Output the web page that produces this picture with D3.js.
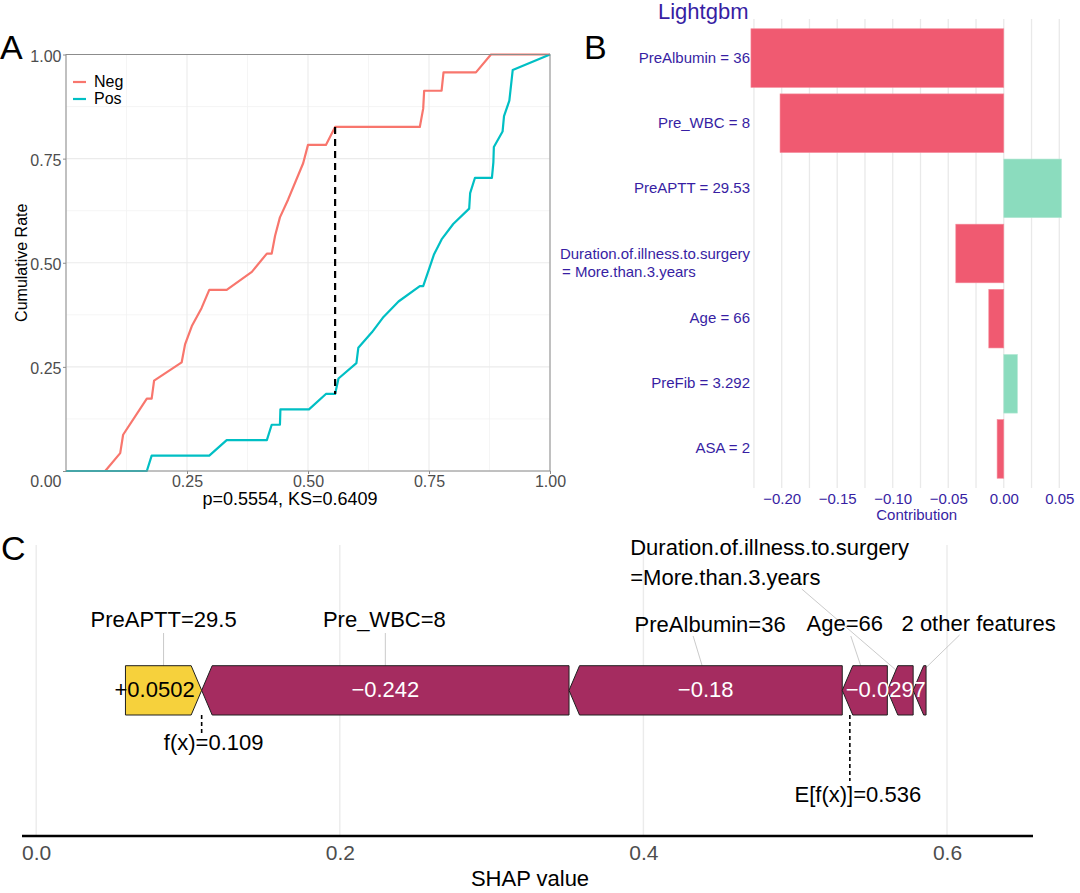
<!DOCTYPE html>
<html lang="en">
<head>
<meta charset="UTF-8">
<title>KS curves, Lightgbm break-down and SHAP force plot</title>
<script src="https://cdn.jsdelivr.net/npm/d3@7"></script>
<style>
  body { margin: 0; background: #fff; }
  svg { font-family: "Liberation Sans", Arial, Helvetica, sans-serif; }
</style>
</head>
<body>
<svg id="chart" width="1080" height="893"></svg>
<script>
// ---------- data ----------
// panel A: cumulative rate curves (x = predicted score, y = cumulative rate)
const negX = [0, 0.081, 0.112, 0.118, 0.167, 0.177, 0.182, 0.239, 0.246, 0.26, 0.28, 0.296, 0.332, 0.384, 0.415, 0.425, 0.432, 0.442, 0.459, 0.49, 0.50, 0.537, 0.556, 0.731, 0.738, 0.74, 0.776, 0.78, 0.847, 0.878, 1.0];
const negY = [0, 0, 0.043, 0.087, 0.174, 0.174, 0.217, 0.261, 0.304, 0.348, 0.391, 0.435, 0.435, 0.478, 0.522, 0.522, 0.565, 0.609, 0.652, 0.739, 0.783, 0.783, 0.826, 0.826, 0.870, 0.913, 0.913, 0.957, 0.957, 1.0, 1.0];
const posX = [0, 0.167, 0.177, 0.296, 0.332, 0.415, 0.425, 0.442, 0.443, 0.502, 0.537, 0.556, 0.563, 0.60, 0.604, 0.632, 0.656, 0.687, 0.731, 0.738, 0.749, 0.76, 0.776, 0.80, 0.833, 0.835, 0.845, 0.88, 0.883, 0.884, 0.902, 0.905, 0.916, 0.923, 1.0];
const posY = [0, 0, 0.037, 0.037, 0.074, 0.074, 0.111, 0.111, 0.148, 0.148, 0.185, 0.185, 0.222, 0.259, 0.296, 0.333, 0.370, 0.407, 0.444, 0.444, 0.481, 0.519, 0.556, 0.593, 0.630, 0.667, 0.704, 0.704, 0.741, 0.778, 0.815, 0.852, 0.889, 0.963, 1.0];
const ksAt = 0.556;          // location of the max distance
const ksText = 'p=0.5554, KS=0.6409';
const groups = ['Neg', 'Pos'];
const rateTicks = [0, 0.25, 0.5, 0.75, 1];

// panel B: Lightgbm break-down
const bdLabels = ['PreAlbumin = 36', 'Pre_WBC = 8', 'PreAPTT = 29.53', 'Duration.of.illness.to.surgery\n = More.than.3.years', 'Age = 66', 'PreFib = 3.292', 'ASA = 2'];
const bdValues = [-0.2277, -0.2015, 0.052, -0.0432, -0.0135, 0.0123, -0.006];
const bdTicks = [-0.2, -0.15, -0.1, -0.05, 0, 0.05];

// panel C: SHAP force plot
const shapFeatures = ['PreAPTT=29.5', 'Pre_WBC=8', 'PreAlbumin=36', 'Age=66', 'Duration.of.illness.to.surgery\n=More.than.3.years', '2 other features'];
const shapValues = [0.0502, -0.242, -0.18, -0.0297, -0.017, -0.0085];
const fx = 0.109;
const efx = 0.536;
const shapTicks = [0, 0.2, 0.4, 0.6];

// ---------- setup ----------
const svg = d3.select('#chart');
svg.append('rect').attr('width', 1080).attr('height', 893).attr('fill', '#fff');

function panelTag(t, x, y) {
  svg.append('text').attr('x', x).attr('y', y).attr('font-size', 34).attr('fill', '#000').text(t);
}

// ================= panel A =================
const xA = d3.scaleLinear().domain([0, 1]).range([66, 550]);
const yA = d3.scaleLinear().domain([0, 1]).range([471, 54.5]);
const gA = svg.append('g');
const minorA = [0.125, 0.375, 0.625, 0.875];

gA.selectAll('.vmin').data(minorA).join('line')
  .attr('x1', d => xA(d)).attr('x2', d => xA(d)).attr('y1', yA(0)).attr('y2', yA(1))
  .attr('stroke', '#f3f3f3').attr('stroke-width', 0.8);
gA.selectAll('.hmin').data(minorA).join('line')
  .attr('y1', d => yA(d)).attr('y2', d => yA(d)).attr('x1', xA(0)).attr('x2', xA(1))
  .attr('stroke', '#f3f3f3').attr('stroke-width', 0.8);
gA.selectAll('.vmaj').data(rateTicks).join('line')
  .attr('x1', d => xA(d)).attr('x2', d => xA(d)).attr('y1', yA(0)).attr('y2', yA(1))
  .attr('stroke', '#ebebeb').attr('stroke-width', 1.1);
gA.selectAll('.hmaj').data(rateTicks).join('line')
  .attr('y1', d => yA(d)).attr('y2', d => yA(d)).attr('x1', xA(0)).attr('x2', xA(1))
  .attr('stroke', '#ebebeb').attr('stroke-width', 1.1);

const lineA = d3.line().x(d => xA(d[0])).y(d => yA(d[1]));
const curves = [
  { name: groups[0], color: '#F8766D', pts: d3.zip(negX, negY) },
  { name: groups[1], color: '#00BFC4', pts: d3.zip(posX, posY) }
];
gA.selectAll('.curve').data(curves).join('path')
  .attr('d', d => lineA(d.pts)).attr('fill', 'none')
  .attr('stroke', d => d.color).attr('stroke-width', 2.2).attr('stroke-linejoin', 'round');

// KS distance
const negAt = d3.zip(negX, negY).find(p => p[0] >= ksAt)[1];
const posAt = d3.zip(posX, posY).find(p => p[0] >= ksAt)[1];
gA.append('line')
  .attr('x1', xA(ksAt)).attr('x2', xA(ksAt)).attr('y1', yA(negAt)).attr('y2', yA(posAt))
  .attr('stroke', '#000').attr('stroke-width', 2.2).attr('stroke-dasharray', '7,5');

gA.append('rect')
  .attr('x', xA(0)).attr('y', yA(1)).attr('width', xA(1) - xA(0)).attr('height', yA(0) - yA(1))
  .attr('fill', 'none').attr('stroke', '#8c8c8c').attr('stroke-width', 1);

const axYA = gA.append('g').attr('transform', `translate(${xA(0)},0)`)
  .call(d3.axisLeft(yA).tickValues(rateTicks).tickFormat(d3.format('.2f')).tickSize(3).tickPadding(1.5));
axYA.select('.domain').remove();
axYA.selectAll('line').attr('stroke', '#8c8c8c');
axYA.selectAll('text').attr('font-size', 16).attr('fill', '#4d4d4d').attr('font-family', null)
  .attr('dy', d => d === 0 ? '0.98em' : '0.42em');

const axXA = gA.append('g').attr('transform', `translate(0,${yA(0)})`)
  .call(d3.axisBottom(xA).tickValues(rateTicks.slice(1)).tickFormat(d3.format('.2f')).tickSize(3).tickPadding(1.5));
axXA.select('.domain').remove();
axXA.selectAll('line').attr('stroke', '#8c8c8c');
axXA.selectAll('text').attr('font-size', 16).attr('fill', '#4d4d4d').attr('font-family', null);

gA.append('text').attr('x', 290).attr('y', 505).attr('text-anchor', 'middle')
  .attr('font-size', 18).attr('fill', '#000').text(ksText);
gA.append('text').attr('transform', `translate(27,${(yA(0) + yA(1)) / 2}) rotate(-90)`)
  .attr('text-anchor', 'middle').attr('font-size', 16).attr('fill', '#000').text('Cumulative Rate');

const legA = gA.selectAll('.leg').data(curves).join('g')
  .attr('transform', (d, i) => `translate(73,${82 + i * 17})`);
legA.append('line').attr('x1', 0).attr('x2', 13).attr('stroke', d => d.color).attr('stroke-width', 2.2);
legA.append('text').attr('x', 21).attr('dy', '0.33em').attr('font-size', 16).attr('fill', '#000').text(d => d.name);

panelTag('A', 0, 59);

// ================= panel B =================
const xB = d3.scaleLinear().domain([-0.2, 0.05]).range([781.7, 1059.3]);
const yB = d3.scaleBand().domain(d3.range(bdLabels.length)).range([25.5, 481.5]).paddingInner(0.1).paddingOuter(0.05);
const gB = svg.append('g');
const purple = '#371ea3';

gB.selectAll('.grid').data(d3.range(-0.225, 0.0501, 0.025)).join('line')
  .attr('x1', d => xB(d)).attr('x2', d => xB(d)).attr('y1', 19).attr('y2', 488)
  .attr('stroke', '#e9e9e9').attr('stroke-width', 1.3);

gB.selectAll('.bar').data(bdValues).join('rect')
  .attr('x', d => xB(Math.min(0, d))).attr('width', d => Math.abs(xB(d) - xB(0)))
  .attr('y', (d, i) => yB(i)).attr('height', yB.bandwidth())
  .attr('fill', d => d < 0 ? '#f05a71' : '#8bdcbe')
  .attr('stroke', d => d < 0 ? '#f58a9a' : '#b2e8d4').attr('stroke-width', 0.6);

gB.selectAll('.lab').data(bdLabels).join('text')
  .attr('font-size', 15).attr('fill', purple)
  .each(function (d, i) {
    const t = d3.select(this);
    const c = yB(i) + yB.bandwidth() / 2;
    const parts = d.split('\n');
    if (parts.length === 1) {
      t.attr('x', 750).attr('y', c).attr('dy', '0.3em').attr('text-anchor', 'end').text(d);
    } else {
      t.append('tspan').attr('x', 750).attr('y', c + 5).attr('text-anchor', 'end').text(parts[0]);
      t.append('tspan').attr('x', 562).attr('y', c + 23.4).attr('text-anchor', 'start').text(parts[1].trim());
    }
  });

const axB = gB.append('g').attr('transform', 'translate(0,493.5)')
  .call(d3.axisBottom(xB).tickValues(bdTicks).tickFormat(d3.format('.2f')).tickSize(0).tickPadding(0));
axB.select('.domain').remove();
axB.selectAll('text').attr('font-size', 15).attr('fill', purple).attr('font-family', null);

gB.append('text').attr('x', 916.7).attr('y', 520).attr('text-anchor', 'middle')
  .attr('font-size', 15).attr('fill', purple).text('Contribution');
gB.append('text').attr('x', 658).attr('y', 19).attr('font-size', 22).attr('fill', purple).text('Lightgbm');

panelTag('B', 584, 59);

// ================= panel C =================
const xC = d3.scaleLinear().domain([0, 0.6]).range([36.2, 36.2 + 0.6 * 1518]);
const gC = svg.append('g');
const barTop = 665.7, barBot = 715, barMid = (barTop + barBot) / 2, tipW = 10.5;

gC.selectAll('.grid').data(shapTicks).join('line')
  .attr('x1', d => xC(d)).attr('x2', d => xC(d)).attr('y1', 545).attr('y2', 836)
  .attr('stroke', '#ebebeb').attr('stroke-width', 1.4);

// stack: positive contributions go left of f(x), negatives go right of f(x)
const posSum = d3.sum(shapValues.filter(v => v > 0));
let posStart = fx - posSum, negStart = fx;
const segs = shapValues.map((v, i) => {
  let a, b;
  if (v > 0) { a = posStart; b = posStart + v; posStart = b; }
  else { a = negStart; b = negStart - v; negStart = b; }
  return { i, v, a, b, mid: (a + b) / 2 };
});

function arrowPts(s) {
  const a = xC(s.a), b = xC(s.b), w = Math.min(tipW, b - a);
  if (s.v > 0) return [[a, barTop], [b - w, barTop], [b, barMid], [b - w, barBot], [a, barBot]];
  return [[a, barMid], [a + w, barTop], [b, barTop], [b, barBot], [a + w, barBot]];
}

// label layout (offsets from each segment's centre, px)
const cLayout = [
  { dx: 0, y: 627, lx: 0, ly: 633, ex: 0, ey: 675 },
  { dx: -1, y: 627, lx: 0, ly: 633, ex: 0, ey: 675 },
  { dx: 4.5, y: 632, lx: -12.5, ly: 636, ex: -1, ey: 674 },
  { dx: -20, y: 631, lx: -14, ly: 636, ex: -1, ey: 675 },
  { left: -270, y: 555, lx: -98.5, ly: 589, ex: -2, ey: 672 },
  { dx: 59, y: 631, lx: 40, ly: 635, ex: 4, ey: 670 }
];
const valueDx = [-9, 0, 0, 21];

gC.selectAll('.conn').data(segs).join('line')
  .attr('x1', d => xC(d.mid) + cLayout[d.i].lx).attr('y1', d => cLayout[d.i].ly)
  .attr('x2', d => xC(d.mid) + cLayout[d.i].ex).attr('y2', d => cLayout[d.i].ey)
  .attr('stroke', '#bdbdbd').attr('stroke-width', 0.8);

gC.selectAll('.seg').data(segs).join('polygon')
  .attr('points', d => arrowPts(d).map(p => p.join(',')).join(' '))
  .attr('fill', d => d.v > 0 ? '#f6d13c' : '#a52c60')
  .attr('stroke', '#1f1f1f').attr('stroke-width', 1);

const fmtVal = d3.format('+.3~r');
gC.selectAll('.val').data(segs.slice(0, valueDx.length)).join('text')
  .attr('x', d => xC(d.mid) + valueDx[d.i]).attr('y', 697.3).attr('text-anchor', 'middle')
  .attr('font-size', 22).attr('fill', d => d.v > 0 ? '#000' : '#fff').text(d => fmtVal(d.v));

gC.selectAll('.flab').data(segs).join('text')
  .attr('font-size', 22).attr('fill', '#000')
  .each(function (d) {
    const t = d3.select(this), L = cLayout[d.i], parts = shapFeatures[d.i].split('\n');
    if (parts.length === 1) {
      t.attr('x', xC(d.mid) + L.dx).attr('y', L.y).attr('text-anchor', 'middle').text(parts[0]);
    } else {
      parts.forEach((p, k) => t.append('tspan').attr('x', xC(d.mid) + L.left).attr('y', L.y + k * 30).text(p));
    }
  });

// f(x) and E[f(x)] markers
gC.append('line').attr('x1', xC(fx)).attr('x2', xC(fx)).attr('y1', barBot).attr('y2', 733)
  .attr('stroke', '#000').attr('stroke-width', 1.6).attr('stroke-dasharray', '4,3');
gC.append('text').attr('x', xC(fx) + 12).attr('y', 750).attr('text-anchor', 'middle')
  .attr('font-size', 22).attr('fill', '#000').text(`f(x)=${fx}`);
gC.append('line').attr('x1', xC(efx)).attr('x2', xC(efx)).attr('y1', barBot).attr('y2', 781)
  .attr('stroke', '#000').attr('stroke-width', 1.6).attr('stroke-dasharray', '4,3');
gC.append('text').attr('x', xC(efx) + 8).attr('y', 802).attr('text-anchor', 'middle')
  .attr('font-size', 22).attr('fill', '#000').text(`E[f(x)]=${efx}`);

// axis
gC.append('line').attr('x1', 22).attr('x2', 1033).attr('y1', 836).attr('y2', 836)
  .attr('stroke', '#000').attr('stroke-width', 2.5);
const axC = gC.append('g').attr('transform', 'translate(0,845)')
  .call(d3.axisBottom(xC).tickValues(shapTicks).tickFormat(d3.format('.1f')).tickSize(0).tickPadding(0));
axC.select('.domain').remove();
axC.selectAll('text').attr('font-size', 21).attr('fill', '#4d4d4d').attr('font-family', null);
gC.append('text').attr('x', 530).attr('y', 886).attr('text-anchor', 'middle')
  .attr('font-size', 22).attr('fill', '#000').text('SHAP value');

panelTag('C', 1, 560);
</script>
</body>
</html>
